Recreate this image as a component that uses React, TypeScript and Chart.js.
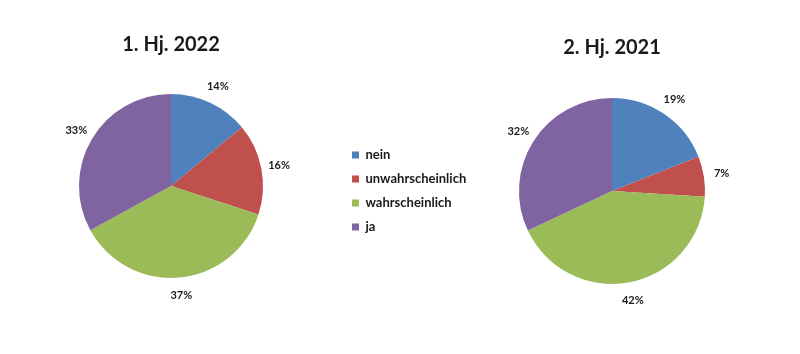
import React, { useEffect, useRef } from 'react';
import { Chart, registerables } from 'chart.js';
Chart.register(...registerables);

const categories = ['nein', 'unwahrscheinlich', 'wahrscheinlich', 'ja'];
const values2022 = [14, 16, 37, 33];
const values2021 = [19, 7, 42, 32];
const title2022 = '1. Hj. 2022';
const title2021 = '2. Hj. 2021';
const colors = ['#4F81BD', '#C0504D', '#9BBB59', '#8064A2'];

const FONT = 'Lato, "Open Sans", sans-serif';
const TEXT = '#1a1a1a';

const labelPlugin = {
  id: 'outLabels',
  afterDatasetsDraw(chart: any) {
    const ctx = chart.ctx;
    const meta = chart.getDatasetMeta(0);
    const data = chart.data.datasets[0].data;
    ctx.save();
    ctx.font = `bold 11px ${FONT}`;
    ctx.fillStyle = TEXT;
    ctx.textAlign = 'center';
    ctx.textBaseline = 'middle';
    meta.data.forEach((arc: any, i: number) => {
      const { x, y, startAngle, endAngle, outerRadius } = arc.getProps(
        ['x', 'y', 'startAngle', 'endAngle', 'outerRadius'],
        true
      );
      const mid = (startAngle + endAngle) / 2;
      const d = outerRadius + 18;
      ctx.fillText(`${data[i]}%`, x + Math.cos(mid) * d, y + Math.sin(mid) * d);
    });
    ctx.restore();
  },
};

type PieProps = {
  values: number[];
  title: string;
  left: number;
  width: number;
  radius: number;
  padTop: number;
  padBottom: number;
};

function Pie({ values, title, left, width, radius, padTop, padBottom }: PieProps) {
  const ref = useRef<HTMLCanvasElement>(null);
  useEffect(() => {
    const chart = new Chart(ref.current!, {
      type: 'pie',
      data: {
        labels: categories,
        datasets: [
          {
            data: values,
            backgroundColor: colors,
            borderWidth: 0,
          },
        ],
      },
      options: {
        responsive: false,
        animation: false,
        events: [],
        radius,
        layout: { padding: { bottom: padBottom } },
        plugins: {
          legend: { display: false },
          tooltip: { enabled: false },
          title: {
            display: true,
            text: title,
            color: TEXT,
            font: { family: FONT, size: 20, weight: 'bold' },
            padding: { top: padTop, bottom: 0 },
          },
        },
      } as any,
      plugins: [labelPlugin],
    });
    return () => chart.destroy();
  }, []);
  return (
    <canvas
      ref={ref}
      width={width}
      height={354}
      style={{ position: 'absolute', left, top: 0, width, height: 354 }}
    />
  );
}

function Legend() {
  const ref = useRef<HTMLCanvasElement>(null);
  useEffect(() => {
    const chart = new Chart(ref.current!, {
      type: 'pie',
      data: {
        labels: categories,
        datasets: [{ data: values2022, backgroundColor: colors, borderWidth: 0 }],
      },
      options: {
        responsive: false,
        animation: false,
        events: [],
        radius: 0,
        layout: { padding: { top: 28 } },
        plugins: {
          tooltip: { enabled: false },
          legend: {
            display: true,
            position: 'left',
            align: 'center',
            maxWidth: 140,
            labels: {
              boxWidth: 7,
              boxHeight: 7,
              padding: 11,
              color: TEXT,
              font: { family: FONT, size: 13, weight: 'bold' },
            },
          },
        },
      } as any,
    });
    return () => chart.destroy();
  }, []);
  return (
    <canvas
      ref={ref}
      width={140}
      height={354}
      style={{ position: 'absolute', left: 341, top: 0, width: 140, height: 354 }}
    />
  );
}

export default function App() {
  return (
    <div
      style={{
        position: 'absolute',
        left: 0,
        top: 0,
        width: 800,
        height: 354,
        background: '#ffffff',
        overflow: 'hidden',
      }}
    >
      <Pie values={values2022} title={title2022} left={0} width={342} radius={92} padTop={33} padBottom={39} />
      <Legend />
      <Pie values={values2021} title={title2021} left={482} width={260} radius={93} padTop={36} padBottom={32} />
    </div>
  );
}
